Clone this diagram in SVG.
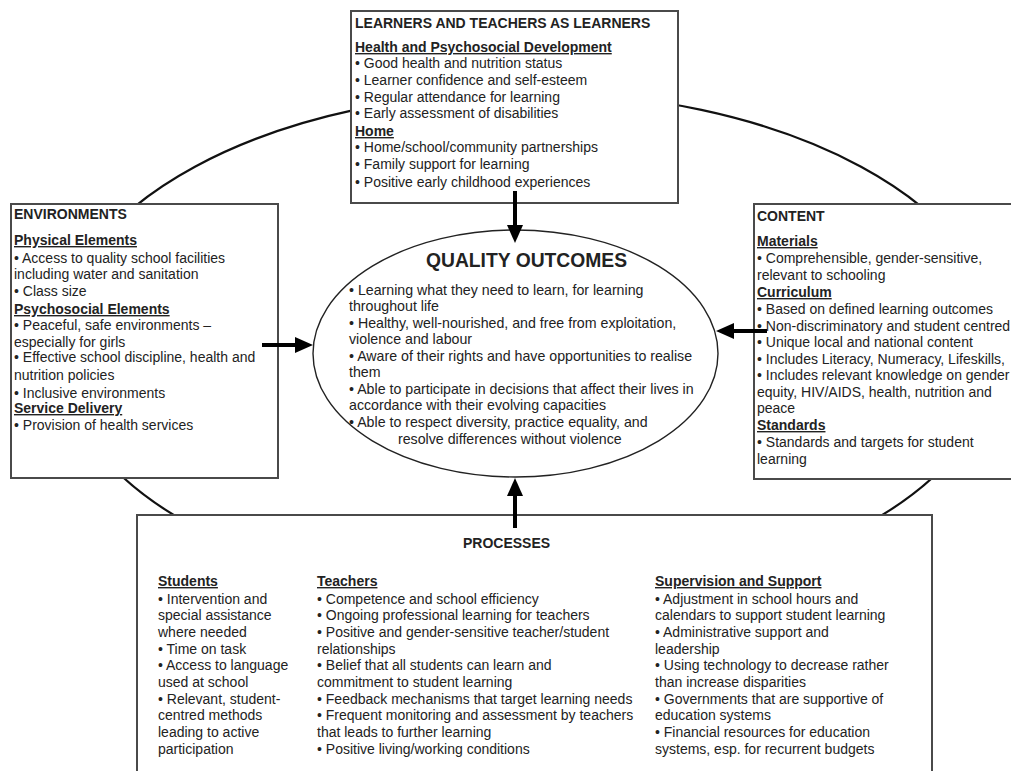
<svg xmlns="http://www.w3.org/2000/svg" width="1011" height="771" viewBox="0 0 1011 771">
<style>
text{font-family:"Liberation Sans",Arial,sans-serif;font-size:14px;fill:#222}
.t{font-weight:bold}
.h{font-weight:bold;text-decoration:underline}
.o{font-size:14.2px}
.box{fill:#fff;stroke:#4a4a4a;stroke-width:2}
.cyc{fill:none;stroke:#111;stroke-width:2.2}
.arr{stroke:#000;stroke-width:4;fill:none}
.oe{fill:#fff;stroke:#222;stroke-width:1.4}
</style>
<defs>
<marker id="ah" markerUnits="userSpaceOnUse" markerWidth="18" markerHeight="16" refX="0" refY="8" orient="auto" viewBox="0 0 18 16">
<path d="M0,0 L18,8 L0,16 z" fill="#000"/>
</marker>
</defs>
<rect width="1011" height="771" fill="#fff"/>
<g id="cycle">
<ellipse class="cyc" cx="528" cy="347" rx="471" ry="255"/>
</g>
<g id="learners">
<rect class="box" x="351" y="11" width="327" height="192"/>
<text class="t" x="355" y="28">LEARNERS AND TEACHERS AS LEARNERS</text>
<text class="h" x="355" y="52">Health and Psychosocial Development</text>
<text x="355" y="68">• Good health and nutrition status</text>
<text x="355" y="85">• Learner confidence and self-esteem</text>
<text x="355" y="102">• Regular attendance for learning</text>
<text x="355" y="118">• Early assessment of disabilities</text>
<text class="h" x="355" y="136">Home</text>
<text x="355" y="152">• Home/school/community partnerships</text>
<text x="355" y="169">• Family support for learning</text>
<text x="355" y="187">• Positive early childhood experiences</text>
</g>
<g id="environments">
<rect class="box" x="11" y="204" width="267" height="274"/>
<text class="t" x="14" y="219">ENVIRONMENTS</text>
<text class="h" x="14" y="245">Physical Elements</text>
<text x="14" y="263">• Access to quality school facilities</text>
<text x="14" y="279">including water and sanitation</text>
<text x="14" y="296">• Class size</text>
<text class="h" x="14" y="314">Psychosocial Elements</text>
<text x="14" y="330">• Peaceful, safe environments –</text>
<text x="14" y="347">especially for girls</text>
<text x="14" y="362">• Effective school discipline, health and</text>
<text x="14" y="380">nutrition policies</text>
<text x="14" y="398">• Inclusive environments</text>
<text class="h" x="14" y="413">Service Delivery</text>
<text x="14" y="430">• Provision of health services</text>
</g>
<g id="content">
<rect class="box" x="754" y="204" width="270" height="275"/>
<text class="t" x="757" y="221">CONTENT</text>
<text class="h" x="757" y="246">Materials</text>
<text x="757" y="263">• Comprehensible, gender-sensitive,</text>
<text x="757" y="280">relevant to schooling</text>
<text class="h" x="757" y="297">Curriculum</text>
<text x="757" y="314">• Based on defined learning outcomes</text>
<text x="757" y="331">• Non-discriminatory and student centred</text>
<text x="757" y="347">• Unique local and national content</text>
<text x="757" y="364">• Includes Literacy, Numeracy, Lifeskills,</text>
<text x="757" y="380">• Includes relevant knowledge on gender</text>
<text x="757" y="397">equity, HIV/AIDS, health, nutrition and</text>
<text x="757" y="413">peace</text>
<text class="h" x="757" y="430">Standards</text>
<text x="757" y="447">• Standards and targets for student</text>
<text x="757" y="464">learning</text>
</g>
<g id="processes">
<rect class="box" x="137" y="515" width="795" height="270"/>
<text class="t" x="463" y="548">PROCESSES</text>
<text class="h" x="158" y="586">Students</text>
<text x="158" y="604">• Intervention and</text>
<text x="158" y="620">special assistance</text>
<text x="158" y="637">where needed</text>
<text x="158" y="654">• Time on task</text>
<text x="158" y="670">• Access to language</text>
<text x="158" y="687">used at school</text>
<text x="158" y="704">• Relevant, student-</text>
<text x="158" y="720">centred methods</text>
<text x="158" y="737">leading to active</text>
<text x="158" y="754">participation</text>
<text class="h" x="317" y="586">Teachers</text>
<text x="317" y="604">• Competence and school efficiency</text>
<text x="317" y="620">• Ongoing professional learning for teachers</text>
<text x="317" y="637">• Positive and gender-sensitive teacher/student</text>
<text x="317" y="654">relationships</text>
<text x="317" y="670">• Belief that all students can learn and</text>
<text x="317" y="687">commitment to student learning</text>
<text x="317" y="704">• Feedback mechanisms that target learning needs</text>
<text x="317" y="720">• Frequent monitoring and assessment by teachers</text>
<text x="317" y="737">that leads to further learning</text>
<text x="317" y="754">• Positive living/working conditions</text>
<text class="h" x="655" y="586">Supervision and Support</text>
<text x="655" y="604">• Adjustment in school hours and</text>
<text x="655" y="620">calendars to support student learning</text>
<text x="655" y="637">• Administrative support and</text>
<text x="655" y="654">leadership</text>
<text x="655" y="670">• Using technology to decrease rather</text>
<text x="655" y="687">than increase disparities</text>
<text x="655" y="704">• Governments that are supportive of</text>
<text x="655" y="720">education systems</text>
<text x="655" y="737">• Financial resources for education</text>
<text x="655" y="754">systems, esp. for recurrent budgets</text>
</g>
<g id="outcomes">
<ellipse class="oe" cx="515.5" cy="353.5" rx="202.5" ry="123.5"/>
<text class="t" x="426" y="267" style="font-size:19.3px">QUALITY OUTCOMES</text>
<text class="o" x="349" y="295">• Learning what they need to learn, for learning</text>
<text class="o" x="349" y="311">throughout life</text>
<text class="o" x="349" y="328">• Healthy, well-nourished, and free from exploitation,</text>
<text class="o" x="349" y="344">violence and labour</text>
<text class="o" x="349" y="361">• Aware of their rights and have opportunities to realise</text>
<text class="o" x="349" y="377">them</text>
<text class="o" x="349" y="394">• Able to participate in decisions that affect their lives in</text>
<text class="o" x="349" y="410">accordance with their evolving capacities</text>
<text class="o" x="349" y="427">• Able to respect diversity, practice equality, and</text>
<text class="o" x="398" y="444">resolve differences without violence</text>
</g>
<g id="connectors">
<line class="arr" x1="515" y1="191" x2="515" y2="225" marker-end="url(#ah)"/>
<line class="arr" x1="262" y1="345" x2="295" y2="345" marker-end="url(#ah)"/>
<line class="arr" x1="767" y1="331" x2="734" y2="331" marker-end="url(#ah)"/>
<line class="arr" x1="515" y1="528" x2="515" y2="496" marker-end="url(#ah)"/>
</g>
</svg>
